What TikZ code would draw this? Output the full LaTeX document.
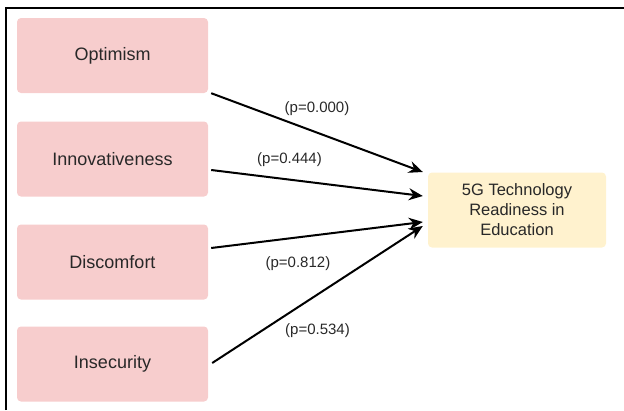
\documentclass[tikz,border=0pt]{standalone}
\usepackage{fontspec}
\setmainfont{Liberation Sans}
\usepackage{tikz}
\usetikzlibrary{arrows.meta,shapes}
\definecolor{boxpink}{RGB}{247,205,205}
\definecolor{boxyellow}{RGB}{255,242,206}
\definecolor{txtgray}{RGB}{40,40,40}

\begin{document}
\begin{tikzpicture}[x=1pt,y=-1pt,->,>={Stealth[length=14pt,width=12pt]}]
 \tikzstyle{every edge}=[draw,line width=2pt]
 \tikzstyle{factor}=[fill=boxpink,rounded corners=4pt,minimum width=191pt,minimum height=75pt,text=txtgray,font=\fontsize{18}{21}\selectfont]
 \tikzstyle{outcome}=[fill=boxyellow,rounded corners=4pt,minimum width=178pt,minimum height=75pt,text=txtgray,align=center,font=\fontsize{16.5}{20}\selectfont]
 \tikzstyle{pval}=[text=txtgray,font=\fontsize{15}{17}\selectfont]

 \useasboundingbox (0,0) rectangle (624,410);
 \draw[-,line width=2pt] (6,410) -- (6,7.5) -- (624,7.5);

   \node[factor] (opt)   at (112.5,55.5) {Optimism};
   \node[factor] (inno)  at (112.5,159) {Innovativeness};
   \node[factor] (disc)  at (112.5,262) {Discomfort};
   \node[factor] (insec) at (112.5,364) {Insecurity};
   \node[outcome] (ready) at (517,210) {5G Technology\\Readiness in\\Education};

     \path[->]
    ([xshift=3pt]opt.south east) edge node[pval,yshift=24pt] {(p=0.000)} ([shift={(-5,-38)}]ready.west)
    ([shift={(3,11)}]inno.east) edge node[pval,pos=0.37,yshift=20pt] {(p=0.444)} ([shift={(-5,-14)}]ready.west)
    ([shift={(3,-14)}]disc.east) edge node[pval,pos=0.41,yshift=-26pt] {(p=0.812)} ([shift={(-5,12)}]ready.west)
    ([shift={(4,-1)}]insec.east) edge node[pval,yshift=-36pt] {(p=0.534)} ([shift={(-5,16)}]ready.west);
\end{tikzpicture}
\end{document}
